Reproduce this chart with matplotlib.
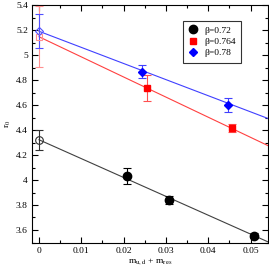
import matplotlib
matplotlib.use("Agg")
import matplotlib.pyplot as plt
from matplotlib.ticker import MultipleLocator, FuncFormatter
from matplotlib.lines import Line2D
import numpy as np

plt.rcParams['font.family'] = ['Liberation Serif', 'DejaVu Serif']
plt.rcParams['mathtext.fontset'] = 'stix'

# data: beta = 0.72
x72 = [0.0207, 0.0307, 0.0508]
y72 = [4.03, 3.84, 3.554]
e72 = [0.063, 0.035, 0.02]
# beta = 0.764
x764 = [0.0256, 0.0457]
y764 = [4.738, 4.418]
e764 = [0.105, 0.03]
# beta = 0.78
x78 = [0.0244, 0.0447]
y78 = [4.866, 4.60]
e78 = [0.053, 0.053]

# chiral extrapolations (x = 0)
ext_y = [4.322, 5.146, 5.19]
ext_e = [0.08, 0.245, 0.135]
# linear fits: intercept, slope
fit_a = [4.322, 5.146, 5.19]
fit_b = [-15.1, -16.1, -12.9]

labels = ['β=0.72', 'β=0.764', 'β=0.78']

fig = plt.figure(figsize=(2.69, 2.68), dpi=100)
ax = fig.add_axes([32/269, 1-242.5/268, 236/269, 237.5/268])

xl = (-0.00165, 0.0541)
ax.set_xlim(*xl)
ax.set_ylim(3.5, 5.4)

line_cols = ['#404040', '#ff4040', '#4040ff']
xs = np.array([0.0, xl[1]])
for a, b, c in zip(fit_a, fit_b, line_cols):
    ax.plot(xs, a + b*xs, color=c, lw=0.8, zorder=2)

# data points
ax.errorbar(x72, y72, yerr=e72, fmt='o', color='black', ms=6, capsize=2.8,
            elinewidth=0.8, capthick=0.8, zorder=4)
ax.errorbar(x764, y764, yerr=e764, fmt='s', color='#ff0000', ecolor='#ff5050',
            ms=5, capsize=2.8, elinewidth=0.8, capthick=0.8, zorder=4)
ax.errorbar(x78, y78, yerr=e78, fmt='D', color='#0000ff', ecolor='#4040ff',
            ms=4.5, capsize=2.8, elinewidth=0.8, capthick=0.8, zorder=4)

# extrapolated points
ax.errorbar([0], [ext_y[0]], yerr=[ext_e[0]], fmt='o', mfc='none', mec='#303030',
            color='#303030', ms=5.5, capsize=2.8, elinewidth=0.8, capthick=0.8, mew=0.8, zorder=5)
ax.errorbar([0], [ext_y[1]], yerr=[ext_e[1]], fmt='s', mfc='none', mec='#ff9090',
            color='#ff9090', ms=5, capsize=2.8, elinewidth=0.8, capthick=0.8, mew=0.8, zorder=5)
ax.errorbar([0], [ext_y[2]], yerr=[ext_e[2]], fmt='D', mfc='none', mec='#5050ff',
            color='#5050ff', ms=4.5, capsize=2.8, elinewidth=0.8, capthick=0.8, mew=0.8, zorder=5)

ax.xaxis.set_major_locator(MultipleLocator(0.01))
ax.xaxis.set_minor_locator(MultipleLocator(0.005))
ax.yaxis.set_major_locator(MultipleLocator(0.2))
ax.yaxis.set_minor_locator(MultipleLocator(0.1))
fmt = FuncFormatter(lambda v, p: ('%.2f' % v).rstrip('0').rstrip('.') if abs(v) > 1e-9 else '0')
ax.xaxis.set_major_formatter(fmt)
ax.yaxis.set_major_formatter(fmt)
ax.tick_params(which='both', direction='in', top=True, right=True, labelsize=6.8,
               width=0.8, colors='black', pad=3)
ax.tick_params(which='major', length=4)
ax.tick_params(which='minor', length=2)
for s in ax.spines.values():
    s.set_linewidth(0.8)

ax.set_xlabel(r'm$_{\rm u,d}$ + m$_{\rm res}$', fontsize=6.8, labelpad=1)
ax.set_ylabel(r'r$_0$', fontsize=6.8, labelpad=2)

handles = [Line2D([], [], marker='o', color='black', ls='none', ms=6),
           Line2D([], [], marker='s', color='#ff0000', ls='none', ms=5),
           Line2D([], [], marker='D', color='#0000ff', ls='none', ms=4.5)]
leg = ax.legend(handles, labels, loc='upper left',
                bbox_to_anchor=((183-32)/236, (242.5-20.7)/237.5),
                fontsize=6.8, frameon=True, fancybox=False, edgecolor='black',
                handlelength=1.0, handletextpad=0.7, borderpad=0.55, labelspacing=0.3,
                borderaxespad=0)
leg.get_frame().set_linewidth(0.8)

fig.savefig('out.png', dpi=100)
